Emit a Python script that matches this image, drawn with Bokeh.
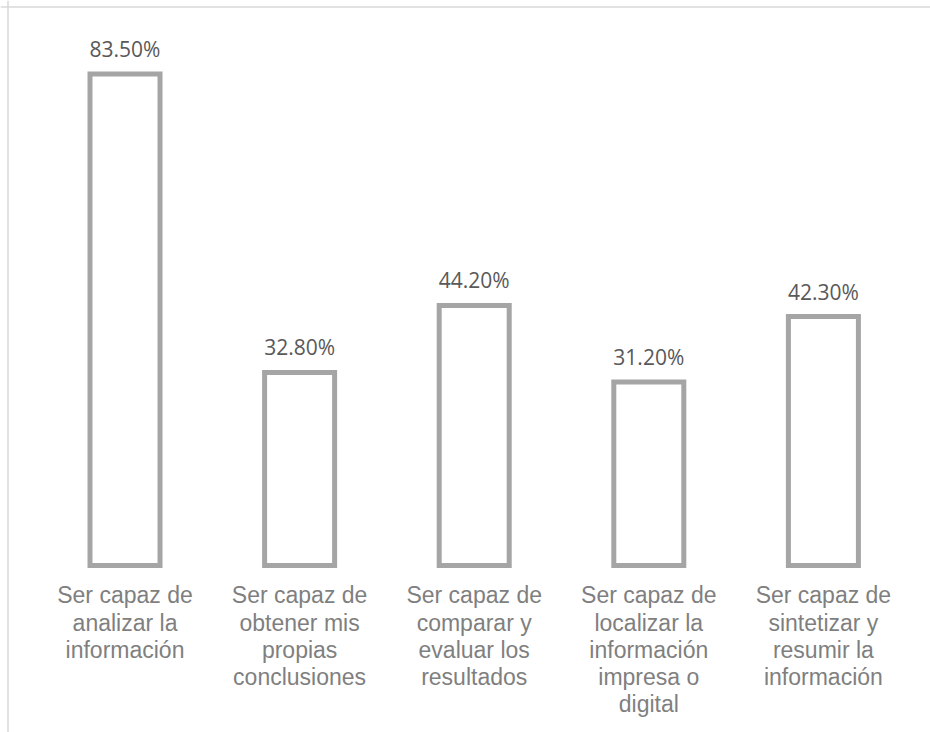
from bokeh.plotting import figure
from bokeh.models import ColumnDataSource, Range1d, Span
from bokeh.core.properties import value
from bokeh.embed import file_html
from bokeh.resources import INLINE

categories = [
    "Ser capaz de\nanalizar la\ninformación",
    "Ser capaz de\nobtener mis\npropias\nconclusiones",
    "Ser capaz de\ncomparar y\nevaluar los\nresultados",
    "Ser capaz de\nlocalizar la\ninformación\nimpresa o\ndigital",
    "Ser capaz de\nsintetizar y\nresumir la\ninformación",
]
values = [83.5, 32.8, 44.2, 31.2, 42.3]
value_labels = [f"{v:.2f}%" for v in values]

xs = list(range(len(categories)))
src = ColumnDataSource(dict(x=xs, y=values, zero=[0] * len(xs),
                            lab=value_labels, cat=categories))

p = figure(width=930, height=732, output_backend="svg", toolbar_location=None,
           x_range=Range1d(-0.7131, 4.6134), y_range=Range1d(-28.38, 96.01),
           min_border=0, min_border_left=0, min_border_right=0,
           min_border_top=0, min_border_bottom=0)
p.xaxis.visible = False
p.yaxis.visible = False
p.xgrid.visible = False
p.ygrid.visible = False
p.outline_line_color = None
p.background_fill_color = "white"
p.border_fill_color = "white"

p.vbar(x="x", top="y", bottom="zero", width=0.401, source=src,
       fill_color="white", line_color="#a5a5a5", line_width=5,
       line_join="miter")

p.text(x="x", y="y", text="lab", source=src, text_align="center",
       text_baseline="alphabetic", y_offset=-25,
       text_font=value("Open Sans"), text_font_size="21px",
       text_color="#595959")

p.text(x="x", y="zero", text="cat", source=src, text_align="center",
       text_baseline="top", y_offset=17, text_line_height=1.04,
       text_font=value("Liberation Sans"), text_font_size="23px",
       text_color="#7f7f7f")

p.add_layout(Span(location=94.90, dimension="width", line_color="#d9d9d9", line_width=1.5))
p.add_layout(Span(location=-0.6701, dimension="height", line_color="#d9d9d9", line_width=1.5))

open("out.html", "w").write(file_html(p, INLINE))
